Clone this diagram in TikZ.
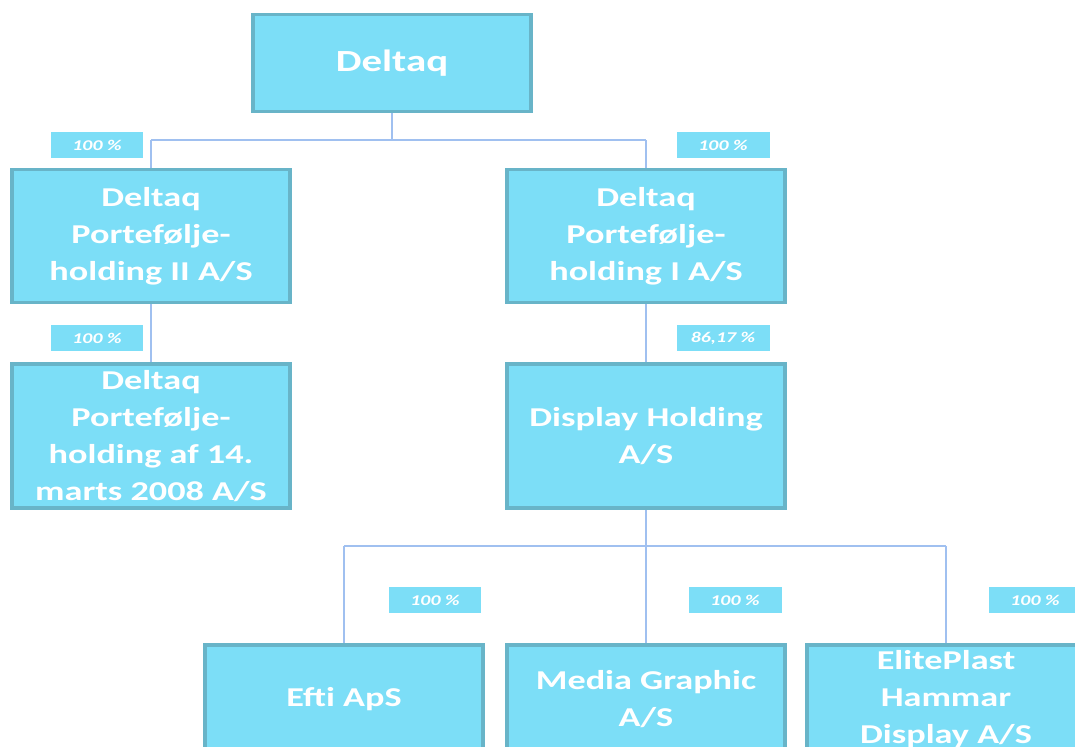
\documentclass[tikz,border=0pt]{standalone}
\usepackage{fontspec}
\setmainfont{Carlito}[FakeStretch=1.33]
\definecolor{boxfill}{RGB}{124,222,247}
\definecolor{boxline}{RGB}{104,180,200}
\definecolor{linkline}{RGB}{160,192,240}
\begin{document}
\begin{tikzpicture}[x=0.02cm,y=-0.02cm,
	firm/.style={draw=boxline,line width=2.2pt,fill=boxfill,text=white,align=center,
		minimum width=5.56cm,inner sep=0pt,font=\fontsize{15.5}{21}\selectfont\bfseries},
	share/.style={fill=boxfill,text=white,minimum width=1.86cm,minimum height=0.52cm,
		inner sep=0pt,font=\fontsize{8.5}{9}\selectfont\bfseries\itshape},
	link/.style={draw=linkline,line width=1.1pt}]
	\useasboundingbox (0,0) rectangle (1075,747);
	\begin{scope}
	\clip (0,0) rectangle (1075,747);
	% Verbindungen
	\coordinate (top) at (392,140);
	\coordinate (l1) at (151,140);
	\coordinate (r1) at (646,140);
	\coordinate (mid) at (646,546);
	\coordinate (b1) at (344,546);
	\coordinate (b3) at (946,546);
	% Firmen
	\node[firm,minimum height=1.94cm,font=\fontsize{17.5}{20}\selectfont\bfseries] (deltaq) at (392,63) {Deltaq};
	\node[firm,minimum height=2.66cm] (ph2) at (151,236) {Deltaq\\Portefølje-\\holding II A/S};
	\node[firm,minimum height=2.66cm] (ph1) at (646,236) {Deltaq\\Portefølje-\\holding I A/S};
	\node[firm,minimum height=2.88cm] (ph14) at (151,436) {Deltaq\\Portefølje-\\holding af 14.\\marts 2008 A/S};
	\node[firm,minimum height=2.88cm] (display) at (646,436) {Display Holding\\A/S};
	\node[firm,minimum height=2.16cm,anchor=north] (efti) at (344,643) {Efti ApS};
	\node[firm,minimum height=2.16cm,anchor=north] (media) at (646,643) {Media Graphic\\A/S};
	\node[firm,minimum height=2.16cm,anchor=north] (elite) at (946,643) {ElitePlast\\Hammar\\Display A/S};
	\draw[link] (deltaq) -- (top) (l1) -- (r1);
	\draw[link] (l1) -- (ph2) (r1) -- (ph1);
	\draw[link] (ph2) -- (ph14) (ph1) -- (display);
	\draw[link] (display) -- (mid) (b1) -- (b3);
	\draw[link] (b1) -- (efti.north-|b1) (mid) -- (media) (b3) -- (elite);
	% Anteile
	\node[share] (s1) at (97,145) {100 \%};
	\node[share] (s2) at (723,145) {100 \%};
	\node[share] (s3) at (97,338) {100 \%};
	\node[share] (s4) at (723,338) {86,17 \%};
	\node[share] (s5) at (435,600) {100 \%};
	\node[share] (s6) at (735,600) {100 \%};
	\node[share] (s7) at (1035,600) {100 \%};
	\end{scope}
\end{tikzpicture}
\end{document}
